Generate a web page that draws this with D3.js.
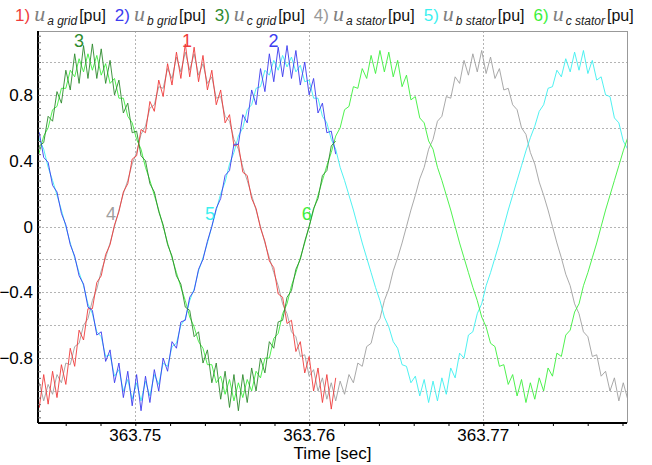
<!DOCTYPE html>
<html lang="en">
<head>
<meta charset="utf-8">
<title>Grid and stator voltages</title>
<script src="https://cdnjs.cloudflare.com/ajax/libs/d3/7.8.5/d3.min.js"></script>
<style>
  body { margin: 0; background: #fff; }
  svg { display: block; font-family: "Liberation Sans", Arial, sans-serif; }
</style>
</head>
<body>
<div id="chart"></div>
<script>
// sampled signals [pu], one value every sampleStep seconds from sampleStart
const sampleStart = 363.744228;
const sampleStep = 0.00025426;

const uaGrid = [-0.92,-1.10,-0.90,-1.08,-0.88,-1.04,-0.84,-0.96,-0.74,-0.85,-0.63,-0.69,-0.50,-0.50,-0.34,-0.30,-0.17,-0.11,0.01,0.09,
  0.21,0.26,0.41,0.43,0.59,0.57,0.76,0.70,0.89,0.79,0.99,0.86,1.06,0.90,1.11,0.91,1.09,0.88,1.04,0.83,
  0.95,0.74,0.83,0.63,0.68,0.49,0.50,0.33,0.31,0.17,0.11,-0.01,-0.09,-0.21,-0.25,-0.41,-0.43,-0.59,-0.57,-0.76,
  -0.70,-0.89,-0.79,-1.00,-0.86,-1.07,-0.90,-1.11,-0.92];
const ubGrid = [0.60,0.57,0.42,0.39,0.25,0.21,0.08,0.01,-0.11,-0.18,-0.30,-0.35,-0.49,-0.51,-0.66,-0.64,-0.82,-0.75,-0.95,-0.83,
  -1.04,-0.88,-1.09,-0.90,-1.12,-0.91,-1.07,-0.87,-1.00,-0.80,-0.88,-0.70,-0.74,-0.58,-0.57,-0.43,-0.39,-0.26,-0.20,-0.09,
  0.00,0.11,0.17,0.31,0.34,0.50,0.50,0.68,0.63,0.83,0.74,0.96,0.82,1.05,0.88,1.09,0.91,1.10,0.90,1.07,
  0.86,1.00,0.80,0.90,0.69,0.75,0.57,0.58,0.44];
const ucGrid = [0.36,0.49,0.51,0.67,0.64,0.82,0.75,0.95,0.83,1.05,0.87,1.10,0.90,1.11,0.90,1.08,0.87,1.01,0.80,0.89,
  0.69,0.75,0.57,0.58,0.43,0.40,0.26,0.21,0.09,0.01,-0.11,-0.18,-0.30,-0.35,-0.49,-0.51,-0.67,-0.64,-0.83,-0.75,
  -0.95,-0.83,-1.05,-0.88,-1.10,-0.90,-1.12,-0.90,-1.07,-0.86,-1.00,-0.80,-0.89,-0.70,-0.74,-0.58,-0.57,-0.43,-0.39,-0.26,
  -0.20,-0.09,0.00,0.11,0.17,0.31,0.34,0.49,0.52];

const uaStator = [-1.03,-0.95,-1.06,-0.96,-1.02,-0.90,-0.95,-0.83,-0.84,-0.73,-0.71,-0.60,-0.56,-0.45,-0.38,-0.27,-0.19,-0.10,0.00,0.10,
  0.20,0.28,0.38,0.45,0.56,0.61,0.72,0.74,0.85,0.84,0.96,0.90,1.03,0.94,1.06,0.95,1.05,0.92,0.99,0.87,
  0.91,0.78,0.79,0.67,0.64,0.53,0.47,0.36,0.28,0.19,0.10,0.00,-0.10,-0.19,-0.28,-0.36,-0.47,-0.53,-0.64,-0.67,
  -0.79,-0.78,-0.91,-0.87,-1.00,-0.92,-1.05,-0.95,-1.06,-0.94,-1.02,-0.90,-0.95,-0.83,-0.85,-0.73,-0.71,-0.60,-0.56,-0.45,
  -0.38,-0.27,-0.19,-0.10,0.00,0.10,0.19,0.29,0.36,0.47,0.53,0.64,0.67,0.79,0.78,0.91,0.87,1.01,0.92,1.05,
  0.94,1.07,0.93,1.03,0.90,0.96,0.83,0.84,0.74,0.71,0.60,0.56,0.45,0.38,0.27,0.19,0.10,0.00,-0.10,-0.19,
  -0.29,-0.36,-0.47,-0.53,-0.64,-0.67,-0.79,-0.78,-0.91,-0.88,-1.00,-0.92,-1.06,-0.95,-1.05];
const ubStator = [0.63,0.53,0.47,0.36,0.28,0.19,0.10,0.00,-0.10,-0.19,-0.28,-0.36,-0.47,-0.53,-0.64,-0.67,-0.79,-0.78,-0.91,-0.87,
  -1.00,-0.93,-1.05,-0.95,-1.06,-0.94,-1.03,-0.90,-0.96,-0.83,-0.85,-0.73,-0.71,-0.60,-0.56,-0.45,-0.38,-0.27,-0.19,-0.10,
  0.00,0.10,0.20,0.27,0.38,0.45,0.55,0.60,0.71,0.74,0.84,0.85,0.95,0.92,1.01,0.95,1.04,0.97,1.03,0.94,
  0.98,0.88,0.89,0.78,0.78,0.67,0.63,0.53,0.47,0.36,0.28,0.19,0.10,0.00,-0.10,-0.19,-0.28,-0.37,-0.45,-0.55,
  -0.61,-0.70,-0.74,-0.84,-0.85,-0.95,-0.91,-1.03,-0.93,-1.07,-0.94,-1.06,-0.92,-1.02,-0.86,-0.92,-0.77,-0.80,-0.66,-0.64,
  -0.53,-0.47,-0.36,-0.28,-0.19,-0.10,0.00,0.10,0.19,0.28,0.37,0.46,0.54,0.61,0.70,0.74,0.84,0.85,0.95,0.91,
  1.02,0.94,1.06,0.95,1.07,0.93,1.01,0.89,0.91,0.80,0.79,0.66,0.63,0.52,0.47];
const ucStator = [0.38,0.45,0.55,0.60,0.71,0.73,0.84,0.84,0.95,0.91,1.02,0.94,1.05,0.95,1.04,0.92,0.99,0.87,0.90,0.78,
  0.78,0.67,0.63,0.53,0.47,0.36,0.28,0.19,0.10,0.00,-0.10,-0.19,-0.28,-0.37,-0.45,-0.55,-0.61,-0.70,-0.74,-0.84,
  -0.84,-0.95,-0.91,-1.02,-0.93,-1.06,-0.95,-1.04,-0.93,-1.00,-0.88,-0.92,-0.80,-0.80,-0.68,-0.65,-0.53,-0.47,-0.36,-0.28,
  -0.19,-0.10,0.00,0.10,0.19,0.28,0.37,0.45,0.55,0.60,0.71,0.73,0.85,0.84,0.96,0.90,1.04,0.93,1.07,0.94,
  1.06,0.91,1.01,0.85,0.92,0.77,0.79,0.66,0.63,0.52,0.47,0.36,0.28,0.19,0.10,0.00,-0.10,-0.19,-0.28,-0.37,
  -0.45,-0.55,-0.61,-0.71,-0.73,-0.85,-0.84,-0.96,-0.90,-1.03,-0.93,-1.07,-0.95,-1.05,-0.92,-1.00,-0.86,-0.91,-0.77,-0.79,
  -0.66,-0.63,-0.52,-0.47,-0.36,-0.28,-0.19,-0.10,0.00,0.10,0.19,0.28,0.37,0.46,0.54];

// legend / series info
const seriesNums = ["1)", "2)", "3)", "4)", "5)", "6)"];
const seriesSubs = ["a grid", "b grid", "c grid", "a stator", "b stator", "c stator"];
const seriesValues = [uaGrid, ubGrid, ucGrid, uaStator, ubStator, ucStator];
const seriesColors = ["#f03c3c", "#3c3cf0", "#2e8b2e", "#a0a0a0", "#3cf0f0", "#3cf03c"];
const unitLabel = "[pu]";

// curve number tags inside the plot [time, value]
const tagText = ["1", "2", "3", "4", "5", "6"];
const tagTime = [363.75297, 363.75795, 363.74676, 363.74860, 363.75430, 363.75986];
const tagValue = [1.09, 1.09, 1.09, 0.04, 0.04, 0.04];

const xTicks = [363.75, 363.76, 363.77];
const yTickLabels = [-0.8, -0.4, 0, 0.4, 0.8];
const xLabel = "Time [sec]";

const W = 652, H = 465;
const margin = {left: 38, right: 25, top: 31, bottom: 42};

const x = d3.scaleLinear()
  .domain([363.744408, 363.778259])
  .range([margin.left, W - margin.right]);
const y = d3.scaleLinear()
  .domain([-1.1945, 1.1885])
  .range([H - margin.bottom, margin.top]);

const svg = d3.select("#chart").append("svg")
  .attr("width", W)
  .attr("height", H);

svg.append("clipPath").attr("id", "plotclip")
  .append("rect")
  .attr("x", margin.left).attr("y", margin.top)
  .attr("width", W - margin.right - margin.left)
  .attr("height", H - margin.bottom - margin.top);

// grid lines
const gridY = d3.range(-5, 6).map(d => d / 5);
svg.append("g").selectAll("line")
  .data(gridY)
  .enter().append("line")
  .attr("x1", margin.left).attr("x2", W - margin.right)
  .attr("y1", d => Math.round(y(d)) + 0.5).attr("y2", d => Math.round(y(d)) + 0.5)
  .attr("stroke", "#b4b4b4")
  .attr("stroke-dasharray", "2,2");
svg.append("g").selectAll("line")
  .data(xTicks)
  .enter().append("line")
  .attr("x1", d => Math.round(x(d)) + 0.5).attr("x2", d => Math.round(x(d)) + 0.5)
  .attr("y1", margin.top).attr("y2", H - margin.bottom)
  .attr("stroke", "#b4b4b4")
  .attr("stroke-dasharray", "2,2");

// curves, stator first so the grid traces sit on top
const line = d3.line()
  .x((d, i) => x(sampleStart + i * sampleStep))
  .y(d => y(d));

const order = [3, 4, 5, 0, 1, 2];
svg.append("g").attr("clip-path", "url(#plotclip)")
  .selectAll("path")
  .data(order)
  .enter().append("path")
  .attr("d", k => line(seriesValues[k]))
  .attr("fill", "none")
  .attr("stroke", k => seriesColors[k])
  .attr("stroke-width", 1)
  .attr("stroke-opacity", 0.9);

// frame: top/right grey, left/bottom black
svg.append("line")
  .attr("x1", margin.left).attr("x2", W - margin.right)
  .attr("y1", margin.top + 0.5).attr("y2", margin.top + 0.5)
  .attr("stroke", "#999");
svg.append("line")
  .attr("x1", W - margin.right + 0.5).attr("x2", W - margin.right + 0.5)
  .attr("y1", margin.top).attr("y2", H - margin.bottom)
  .attr("stroke", "#999");

const xAxis = d3.axisBottom(x)
  .tickValues(d3.range(363.746, 363.7783, 0.002))
  .tickSize(3)
  .tickFormat("");
svg.append("g")
  .attr("transform", `translate(0,${H - margin.bottom})`)
  .call(xAxis)
  .call(g => g.select(".domain").attr("stroke", "#000").attr("stroke-width", 2).attr("d", `M${margin.left},0H${W - margin.right}`));

const yAxis = d3.axisLeft(y)
  .tickValues(d3.range(-1.16, 1.18, 0.04))
  .tickSize(-3)
  .tickFormat("");
svg.append("g")
  .attr("transform", `translate(${margin.left},0)`)
  .call(yAxis)
  .call(g => g.select(".domain").attr("stroke", "#000").attr("stroke-width", 2).attr("d", `M0,${margin.top}V${H - margin.bottom}`))
  .call(g => g.selectAll(".tick line").attr("stroke", "#666"));

// tick labels
svg.append("g").selectAll("text")
  .data(yTickLabels)
  .enter().append("text")
  .attr("x", margin.left - 5)
  .attr("y", d => y(d) + 6)
  .attr("text-anchor", "end")
  .attr("font-size", 17)
  .text(d => d === 0 ? "0" : d3.format(".1f")(d));

svg.append("g").selectAll("text")
  .data(xTicks)
  .enter().append("text")
  .attr("x", d => x(d))
  .attr("y", H - margin.bottom + 18)
  .attr("text-anchor", "middle")
  .attr("font-size", 17)
  .text(d => d.toFixed(2));

svg.append("text")
  .attr("x", (margin.left + W - margin.right) / 2)
  .attr("y", H - 6)
  .attr("text-anchor", "middle")
  .attr("font-size", 17)
  .text(xLabel);

// curve tags
svg.append("g").selectAll("text")
  .data(tagText)
  .enter().append("text")
  .attr("x", (d, i) => x(tagTime[i]))
  .attr("y", (d, i) => y(tagValue[i]))
  .attr("text-anchor", "middle")
  .attr("font-size", 18)
  .attr("fill", (d, i) => seriesColors[i])
  .text(d => d);

// legend along the top, flowed by measured widths
let lx = 15;
seriesNums.forEach((num, i) => {
  const t1 = svg.append("text").attr("x", lx).attr("y", 21)
    .attr("font-size", 17).attr("fill", seriesColors[i] === "#a0a0a0" ? "#999" : seriesColors[i]).text(num);
  lx += t1.node().getComputedTextLength() + 4;
  const t2 = svg.append("text").attr("x", lx).attr("y", 21)
    .attr("font-family", "'Liberation Serif', 'Times New Roman', serif")
    .attr("font-style", "italic").attr("font-size", 22).attr("fill", "#808080").text("u");
  lx += t2.node().getComputedTextLength() + 2;
  const t3 = svg.append("text").attr("x", lx).attr("y", 25)
    .attr("font-style", "italic").attr("font-size", 12).attr("fill", "#222").text(seriesSubs[i]);
  lx += t3.node().getComputedTextLength() + 2;
  const t4 = svg.append("text").attr("x", lx).attr("y", 21)
    .attr("font-size", 16).attr("fill", "#111").text(unitLabel);
  lx += t4.node().getComputedTextLength() + 9;
});
</script>
</body>
</html>
